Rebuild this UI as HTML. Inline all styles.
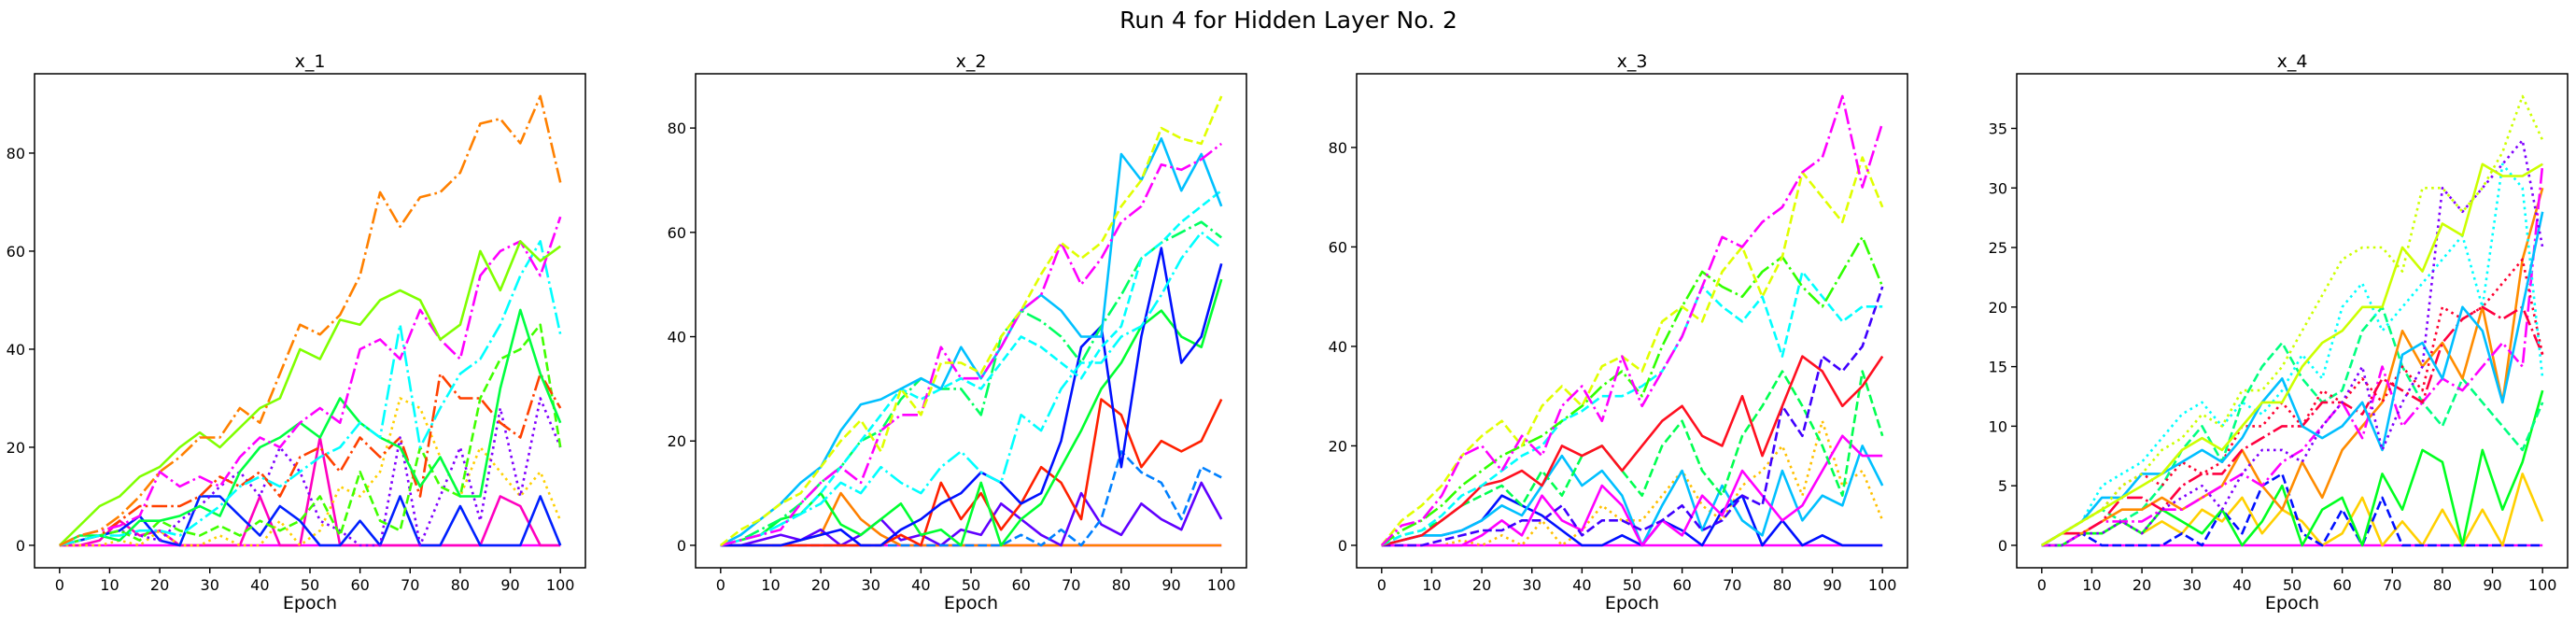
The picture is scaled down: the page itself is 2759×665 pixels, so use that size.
<!DOCTYPE html>
<html><head><meta charset="utf-8">
<style>
html,body{margin:0;padding:0;background:#fff;}
svg{display:block;font-family:"DejaVu Sans","Liberation Sans",sans-serif;}
</style></head>
<body>
<svg id="chart" width="2759" height="665" viewBox="0 0 2759 665" xmlns="http://www.w3.org/2000/svg">
<rect width="2759" height="665" fill="#fff"/>
<text x="1380" y="30" font-size="25" text-anchor="middle" fill="#000">Run 4 for Hidden Layer No. 2</text>
</svg>
<script>
// epochs sampled every 4
const epochs = [0,4,8,12,16,20,24,28,32,36,40,44,48,52,56,60,64,68,72,76,80,84,88,92,96,100];
const panelTitles = ["x_1","x_2","x_3","x_4"];
const xTicks = [0,10,20,30,40,50,60,70,80,90,100];
const yTicks1 = [0,20,40,60,80];
const yTicks2 = [0,20,40,60,80];
const yTicks3 = [0,20,40,60,80];
const yTicks4 = [0,5,10,15,20,25,30,35];

// panel 1 series
const p1orange = [0,2,3,6,10,15,18,22,22,28,25,35,45,43,47,55,72,65,71,72,76,86,87,82,91.6,74];
const p1lime = [0,4,8,10,14,16,20,23,20,24,28,30,40,38,46,45,50,52,50,42,45,60,52,62,58,61];
const p1magenta = [0,2,3,4,6,15,12,14,12,18,22,20,25,28,25,40,42,38,48,42,38,55,60,62,55,67];
const p1cyan = [0,1,2,2,3,3,2,5,8,12,14,12,15,18,20,25,22,45,20,28,35,38,45,55,62,43];
const p1green = [0,2,2,1,5,5,6,8,6,15,20,22,25,22,30,25,22,20,12,18,10,10,32,48,35,25];
const p1red = [0,1,2,5,8,8,8,10,14,12,15,10,18,20,15,22,18,22,10,35,30,30,25,22,35,28];
const p1purple = [0,1,2,3,2,1,5,8,12,15,10,20,15,5,3,0,0,22,0,10,20,5,28,10,30,20];
const p1blue = [0,1,2,3,6,1,0,10,10,6,2,8,5,0,0,5,0,10,0,0,8,0,0,0,10,0];
const p1yellow = [0,0,0,1,0,3,0,0,2,0,0,5,0,3,12,10,15,30,28,18,10,20,15,10,15,5];
const p1green2 = [0,1,2,3,1,5,3,2,4,2,5,3,5,10,2,15,5,3,20,12,10,30,38,40,45,20];
const p1pink = [0,0,1,5,2,3,0,0,0,0,10,0,0,22,0,0,0,0,0,0,0,0,10,8,0,0];
const p1zero = [0,0,0,0,0,0,0,0,0,0,0,0,0,0,0,0,0,0,0,0,0,0,0,0,0,0];

// panel 2 series
const p2yellow = [0,3,5,8,10,15,20,24,18,30,25,35,35,33,40,45,52,58,55,58,65,70,80,78,77,86.1];
const p2magenta = [0,1,2,3,8,12,15,12,22,25,25,38,32,32,38,45,48,58,50,55,62,65,73,72,74,77];
const p2sky = [0,2,5,8,12,15,22,27,28,30,32,30,38,32,38,45,48,45,40,40,75,70,78,68,75,65];
const p2cyan = [0,1,2,4,6,10,15,20,25,30,28,30,32,30,35,40,38,35,32,38,42,55,58,62,65,68];
const p2green = [0,1,3,5,8,12,15,20,22,28,32,30,30,25,40,45,43,40,35,42,48,55,58,60,62,59];
const p2cyan2 = [0,1,2,4,6,8,12,10,15,12,10,15,18,14,12,25,22,30,35,35,40,42,48,55,60,57];
const p2blue = [0,0,0,0,1,2,3,0,0,3,5,8,10,14,12,8,10,20,38,42,15,40,57,35,40,54];
const p2green2 = [0,1,2,5,6,10,4,2,5,8,2,3,0,12,0,5,8,15,22,30,35,42,45,40,38,51];
const p2red = [0,0,0,0,0,0,0,0,0,2,0,12,5,10,3,8,15,12,5,28,25,15,20,18,20,28];
const p2dodger = [0,0,0,0,0,0,0,0,0,0,0,0,0,0,0,2,0,3,0,5,18,14,12,5,15,13];
const p2purple = [0,0,1,2,1,3,0,2,5,1,2,0,3,2,8,5,2,0,10,4,2,8,5,3,12,5];
const p2orange = [0,0,0,0,1,2,10,5,2,0,0,0,0,0,0,0,0,0,0,0,0,0,0,0,0,0];
const p2zero = [0,0,0,0,0,0,0,0,0,0,0,0,0,0,0,0,0,0,0,0,0,0,0,0,0,0];

// panel 3 series
const p3magenta = [0,4,5,10,18,20,15,22,18,28,32,25,38,28,35,42,52,62,60,65,68,75,78,90.3,72,85];
const p3yellow = [0,5,8,12,18,22,25,20,28,32,28,36,38,35,45,48,45,55,60,50,58,75,70,65,78,68];
const p3green = [0,3,5,8,12,15,18,20,22,25,28,32,35,30,40,48,55,52,50,55,58,52,48,55,62,52];
const p3cyan = [0,2,3,6,10,12,15,18,20,25,27,30,30,32,35,42,52,48,45,50,38,55,50,45,48,48];
const p3red = [0,1,2,5,8,12,13,15,12,20,18,20,15,20,25,28,22,20,30,18,28,38,35,28,32,38];
const p3bluedash = [0,0,0,1,2,3,3,5,5,8,2,5,5,3,5,8,3,5,10,8,28,22,38,35,40,52];
const p3pink = [0,0,0,0,0,2,5,2,10,5,3,12,8,0,5,2,10,6,15,10,5,8,15,22,18,18];
const p3sky = [0,1,2,2,3,5,8,6,12,18,12,15,10,0,8,15,3,12,5,2,15,5,10,8,20,12];
const p3blue = [0,1,2,2,3,5,10,8,6,3,0,0,2,0,5,3,0,7,10,0,5,0,2,0,0,0];
const p3gold = [0,0,0,0,1,0,2,0,5,0,3,8,5,5,10,15,8,5,12,15,20,10,25,12,15,5];
const p3green2 = [0,2,3,5,8,10,12,8,15,10,18,20,15,10,20,25,15,10,22,28,35,28,20,10,35,22];
const p3zero = [0,0,0,0,0,0,0,0,0,0,0,0,0,0,0,0,0,0,0,0,0,0,0,0,0,0];

// panel 4 series
const p4yellowdot = [0,1,2,3,5,6,8,9,11,10,13,13,15,18,21,24,25,25,23,30,30,28,30,33,37.7,34];
const p4yellow = [0,1,2,3,4,5,6,8,9,8,10,12,12,15,17,18,20,20,25,23,27,26,32,31,31,32];
const p4purple = [0,0,1,1,2,1,3,4,5,3,6,8,8,7,10,12,15,8,12,15,30,28,30,32,34,25];
const p4reddot = [0,1,2,3,5,6,5,7,6,7,10,10,12,10,13,12,14,12,15,13,20,19,20,22,24,16];
const p4reddash = [0,1,1,2,4,4,3,5,6,6,8,9,10,10,12,12,11,14,13,12,17,19,20,19,20,16];
const p4sky = [0,1,2,4,4,6,6,7,8,7,9,12,14,10,9,10,12,8,16,17,14,20,18,12,20,28];
const p4cyan = [0,1,2,5,6,7,9,11,12,10,12,11,13,16,14,20,22,18,20,22,24,26,20,32,30,14];
const p4spring = [0,1,2,3,2,3,5,8,10,7,12,15,17,14,12,13,18,20,15,12,10,14,12,10,8,12];
const p4green = [0,0,1,1,2,1,3,2,1,3,0,2,5,0,3,4,0,6,3,8,7,0,8,3,7,13];
const p4orange = [0,1,1,2,3,3,4,3,4,5,8,5,3,7,4,8,10,12,18,15,17,14,20,12,24,30];
const p4magenta = [0,0,1,2,2,2,3,3,4,5,6,5,7,8,10,12,9,15,10,12,14,13,15,17,15,32];
const p4blue = [0,0,1,0,0,0,0,1,0,3,1,5,6,1,0,3,0,4,0,0,0,0,0,0,0,0];
const p4gold = [0,0,1,1,2,1,2,1,3,2,4,1,3,2,0,1,4,0,2,0,3,0,3,0,6,2];
const p4zero = [0,0,0,0,0,0,0,0,0,0,0,0,0,0,0,0,0,0,0,0,0,0,0,0,0,0];

const NS = "http://www.w3.org/2000/svg";
const svg = document.getElementById("chart");
const LW = 2.6;
const DASH = {solid:"", dashed:(3.7*LW)+","+(1.6*LW), dashdot:(6.4*LW)+","+(1.6*LW)+","+LW+","+(1.6*LW), dotted:LW+","+(1.65*LW)};

const panels = [
 {left:37, ticks:yTicks1, series:[
  [p1zero,"#ff00ff","solid","zero"],[p1pink,"#ff00c0","solid","pink"],[p1yellow,"#ffd000","dotted","yellow"],
  [p1blue,"#0020ff","solid","blue"],[p1purple,"#8000ff","dotted","purple"],[p1green2,"#40ff00","dashed","green-dashed"],
  [p1red,"#ff4000","dashdot","red"],[p1green,"#00ff40","solid","green"],[p1cyan,"#00ffff","dashdot","cyan"],
  [p1magenta,"#ff00ff","dashdot","magenta"],[p1lime,"#80ff00","solid","lime"],[p1orange,"#ff8000","dashdot","orange"]]},
 {left:745, ticks:yTicks2, series:[
  [p2zero,"#ff00ff","solid","zero"],[p2orange,"#ff8000","solid","orange"],[p2purple,"#6000ff","solid","purple"],
  [p2dodger,"#0080ff","dashed","dodger"],[p2red,"#ff2000","solid","red"],[p2green2,"#00ff30","solid","green"],
  [p2blue,"#0010ff","solid","blue"],[p2cyan2,"#00ffff","dashdot","cyan-dashdot"],[p2green,"#00ff60","dashdot","green-dashdot"],
  [p2cyan,"#00ffff","dashed","cyan-dashed"],[p2sky,"#00c0ff","solid","sky"],[p2magenta,"#ff00ff","dashdot","magenta"],
  [p2yellow,"#e0ff00","dashed","yellow"]]},
 {left:1453, ticks:yTicks3, series:[
  [p3zero,"#ff00ff","solid","zero"],[p3gold,"#ffc000","dotted","gold"],[p3blue,"#0010ff","solid","blue"],
  [p3sky,"#00c0ff","solid","sky"],[p3pink,"#ff00ff","solid","pink"],[p3green2,"#00ff50","dashed","green-dashed"],
  [p3bluedash,"#4000ff","dashed","blue-dashed"],[p3red,"#ff1020","solid","red"],[p3cyan,"#00ffff","dashed","cyan"],
  [p3green,"#30ff00","dashdot","green-dashdot"],[p3yellow,"#e0ff00","dashed","yellow"],[p3magenta,"#ff00ff","dashdot","magenta"]]},
 {left:2160, ticks:yTicks4, series:[
  [p4zero,"#ff00ff","solid","zero"],[p4gold,"#ffd000","solid","gold"],[p4blue,"#0010ff","dashed","blue"],
  [p4green,"#00ff20","solid","green"],[p4spring,"#00ff80","dashed","spring"],[p4orange,"#ff8c00","solid","orange"],
  [p4magenta,"#ff00ff","dashdot","magenta"],[p4reddash,"#ff0040","dashdot","red-dashdot"],[p4reddot,"#ff0030","dotted","red-dotted"],
  [p4cyan,"#00ffff","dotted","cyan"],[p4sky,"#00bfff","solid","sky"],[p4purple,"#8000ff","dotted","purple"],
  [p4yellow,"#ccff00","solid","yellow"],[p4yellowdot,"#ccff00","dotted","yellow-dotted"]]}
];

const TOP = 79, BOT = 608, W = 590;
function mk(tag, attrs){ const e = document.createElementNS(NS, tag); for (const k in attrs) e.setAttribute(k, attrs[k]); return e; }

panels.forEach((p, pi) => {
  let ymax = 0;
  p.series.forEach(s => s[0].forEach(v => { if (v > ymax) ymax = v; }));
  const ylo = -0.05 * ymax, yhi = ymax * 1.05;
  const xs = v => p.left + (v + 5) / 110 * W;
  const ys = v => BOT - (v - ylo) / (yhi - ylo) * (BOT - TOP);
  const g = mk("g", {});
  
  
  svg.appendChild(g);
  const clipId = "clip" + pi;
  const cp = mk("clipPath", {id: clipId});
  cp.appendChild(mk("rect", {x: p.left, y: TOP, width: W, height: BOT - TOP}));
  g.appendChild(cp);
  const lines = mk("g", {"clip-path": "url(#" + clipId + ")"});
  g.appendChild(lines);
  p.series.forEach(s => {
    const pts = epochs.map((e, i) => xs(e).toFixed(1) + "," + ys(s[0][i]).toFixed(1)).join(" ");
    const pl = mk("polyline", {points: pts, fill: "none", stroke: s[1], "stroke-width": LW, "stroke-linejoin": "round"});
    if (DASH[s[2]]) pl.setAttribute("stroke-dasharray", DASH[s[2]]);
    
    
    lines.appendChild(pl);
  });
  const frame = mk("rect", {x: p.left, y: TOP, width: W, height: BOT - TOP, fill: "none", stroke: "#000", "stroke-width": 1.5});
  
  
  g.appendChild(frame);
  xTicks.forEach(t => {
    const x = xs(t);
    g.appendChild(mk("line", {x1: x, x2: x, y1: BOT, y2: BOT + 6, stroke: "#000", "stroke-width": 1.4}));
    const tx = mk("text", {x: x, y: BOT + 24, "font-size": 16, "text-anchor": "middle"});
    tx.textContent = t;
    
    
    g.appendChild(tx);
  });
  p.ticks.forEach(t => {
    const y = ys(t);
    g.appendChild(mk("line", {x1: p.left - 6, x2: p.left, y1: y, y2: y, stroke: "#000", "stroke-width": 1.4}));
    const tx = mk("text", {x: p.left - 10, y: y + 6, "font-size": 16, "text-anchor": "end"});
    tx.textContent = t;
    
    
    g.appendChild(tx);
  });
  const tt = mk("text", {x: p.left + W / 2, y: 72, "font-size": 19, "text-anchor": "middle"});
  tt.textContent = panelTitles[pi];
  
  
  g.appendChild(tt);
  const xl = mk("text", {x: p.left + W / 2, y: 652, "font-size": 19, "text-anchor": "middle"});
  xl.textContent = "Epoch";
  
  
  g.appendChild(xl);
});
</script>
</body></html>
